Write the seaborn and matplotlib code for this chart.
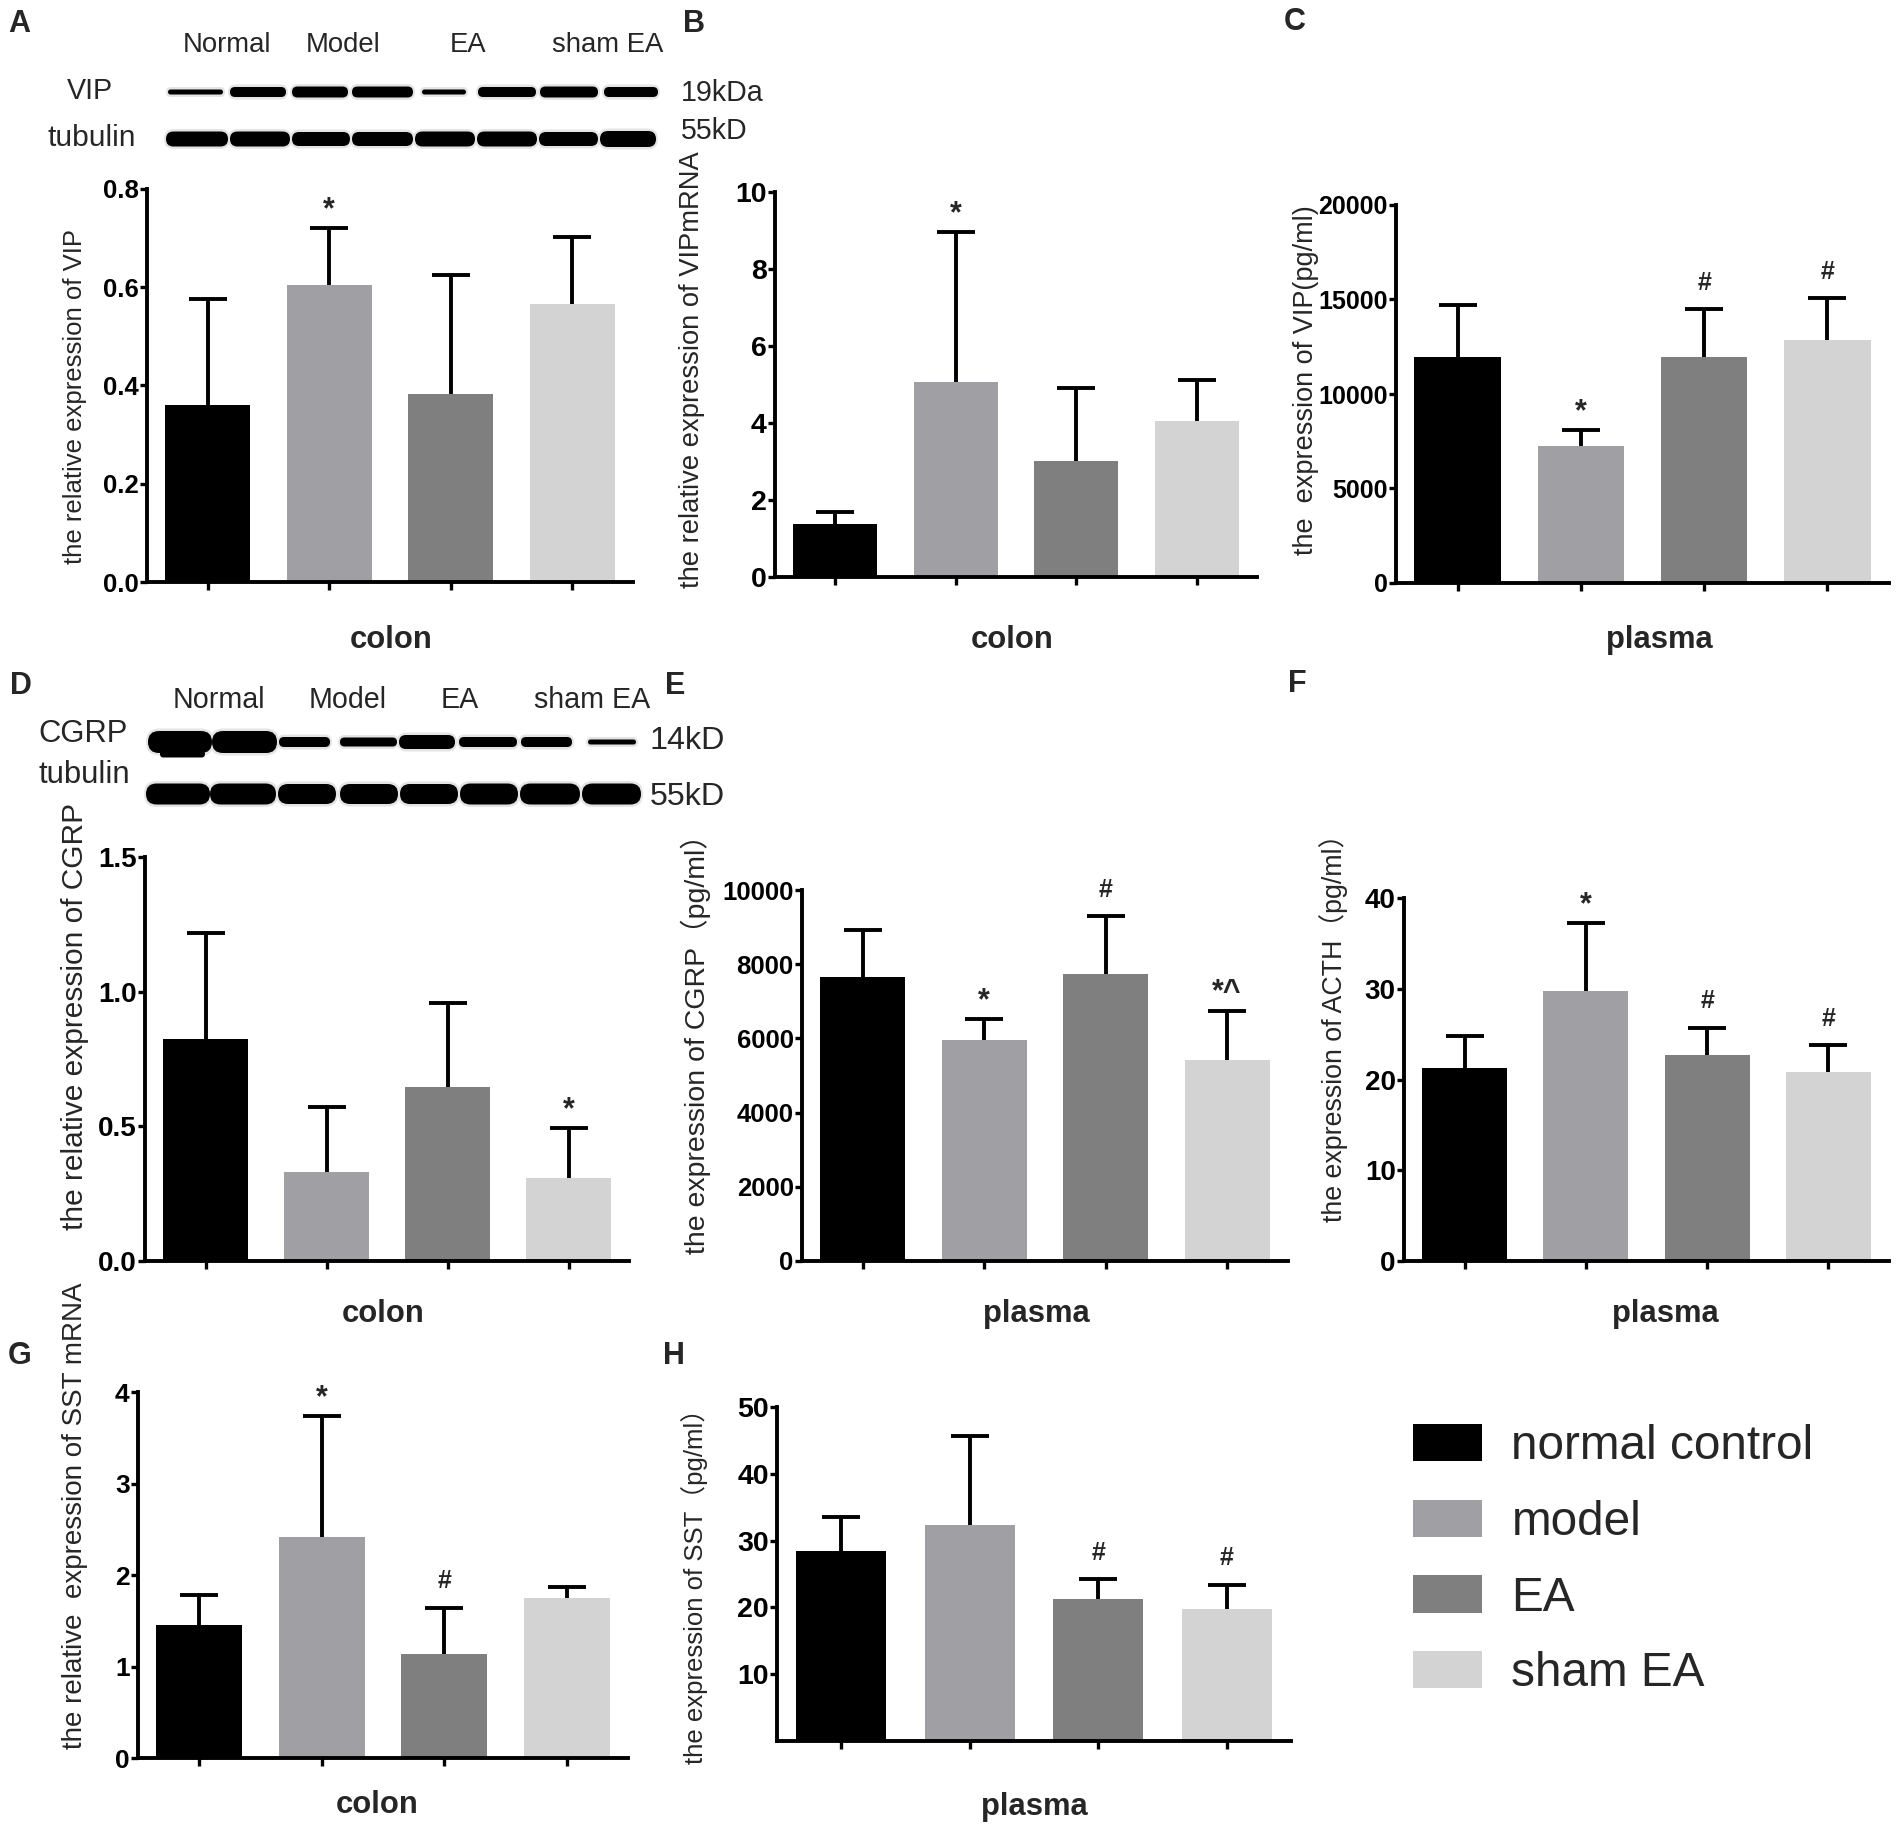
import matplotlib
matplotlib.use("Agg")
import numpy as np
import matplotlib.pyplot as plt
from matplotlib import font_manager as fm
from matplotlib.patches import Patch, FancyBboxPatch
from matplotlib.font_manager import FontProperties
import seaborn as sns

# ------------------------------------------------------------
# data (mean and upper SD per group)
# ------------------------------------------------------------
groups = ["normal control", "model", "EA", "sham EA"]
colors = ["#000000", "#a0a0a4", "#7f7f7f", "#d3d3d3"]

vip_wb_mean = [0.36, 0.605, 0.383, 0.566]
vip_wb_sd = [0.217, 0.115, 0.242, 0.137]
vip_wb_marks = ["", "*", "", ""]

vip_mrna_mean = [1.38, 5.07, 3.02, 4.06]
vip_mrna_sd = [0.31, 3.89, 1.89, 1.05]
vip_mrna_marks = ["", "*", "", ""]

vip_plasma_mean = [11940, 7250, 11980, 12840]
vip_plasma_sd = [2750, 830, 2520, 2230]
vip_plasma_marks = ["", "*", "#", "#"]

cgrp_wb_mean = [0.823, 0.331, 0.645, 0.31]
cgrp_wb_sd = [0.395, 0.242, 0.314, 0.183]
cgrp_wb_marks = ["", "", "", "*"]

cgrp_plasma_mean = [7660, 5960, 7730, 5420]
cgrp_plasma_sd = [1260, 570, 1560, 1320]
cgrp_plasma_marks = ["", "*", "#", "*^"]

acth_mean = [21.3, 29.7, 22.7, 20.8]
acth_sd = [3.5, 7.5, 3.0, 3.0]
acth_marks = ["", "*", "#", "#"]

sst_mrna_mean = [1.45, 2.42, 1.14, 1.75]
sst_mrna_sd = [0.33, 1.315, 0.50, 0.12]
sst_mrna_marks = ["", "*", "#", ""]

sst_plasma_mean = [28.5, 32.3, 21.3, 19.8]
sst_plasma_sd = [5.1, 13.4, 2.9, 3.6]
sst_plasma_marks = ["", "", "#", "#"]

blot_lanes = ["Normal", "Model", "EA", "sham EA"]

# ------------------------------------------------------------
# style
# ------------------------------------------------------------
sns.set_style("ticks")
plt.rcParams["font.family"] = ["Liberation Sans", "Noto Sans CJK SC", "DejaVu Sans"]
_names = {f.name for f in fm.fontManager.ttflist}
HAS_NARROW = "Liberation Sans Narrow" in _names
NARROW = ["Liberation Sans Narrow", "Liberation Sans"] if HAS_NARROW else ["Liberation Sans"]
NS = 1.0 if HAS_NARROW else 0.86   # shrink if no narrow face

W, H = 1902, 1842
fig = plt.figure(figsize=(W / 100, H / 100), dpi=100)

# overlay axes in pixel units for letters and blots
ov = fig.add_axes([0, 0, 1, 1])
ov.set_xlim(0, W)
ov.set_ylim(H, 0)
ov.axis("off")
ov.patch.set_alpha(0)


def add_axes_px(L, R, T, B):
    return fig.add_axes([L / W, 1 - B / H, (R - L) / W, (B - T) / H])


panels = [
    dict(px=(147, 633, 189, 582), mean=vip_wb_mean, sd=vip_wb_sd, marks=vip_wb_marks,
         ymin=0, ymax=0.8, step=0.2, fmt="{:.1f}", tick_fs=18.5,
         ylabel="the relative expression of VIP", ylab=(75, 396), ylab_fs=18.5,
         xlabel="colon", xlab=(391, 640)),
    dict(px=(775, 1257, 192, 577), mean=vip_mrna_mean, sd=vip_mrna_sd, marks=vip_mrna_marks,
         ymin=0, ymax=10, step=2, fmt="{:.0f}", tick_fs=20.5,
         ylabel="the relative expression of VIPmRNA", ylab=(692, 370), ylab_fs=19.7,
         xlabel="colon", xlab=(1012, 640)),
    dict(px=(1396, 1889, 205, 583), mean=vip_plasma_mean, sd=vip_plasma_sd, marks=vip_plasma_marks,
         ymin=0, ymax=20000, step=5000, fmt="{:.0f}", tick_fs=18,
         ylabel="the  expression of VIP(pg/ml)", ylab=(1306, 380), ylab_fs=19.5,
         xlabel="plasma", xlab=(1659, 640)),
    dict(px=(145, 629, 857, 1261), mean=cgrp_wb_mean, sd=cgrp_wb_sd, marks=cgrp_wb_marks,
         ymin=0, ymax=1.5, step=0.5, fmt="{:.1f}", tick_fs=20,
         ylabel="the relative expression of CGRP", ylab=(75, 1016), ylab_fs=21.5,
         xlabel="colon", xlab=(383, 1314)),
    dict(px=(802, 1288, 890, 1261), mean=cgrp_plasma_mean, sd=cgrp_plasma_sd, marks=cgrp_plasma_marks,
         ymin=0, ymax=10000, step=2000, fmt="{:.0f}", tick_fs=18.5,
         ylabel="the expression of CGRP（pg/ml）", ylab=(696, 1037), ylab_fs=20.5,
         xlabel="plasma", xlab=(1036, 1314)),
    dict(px=(1404, 1889, 898, 1261), mean=acth_mean, sd=acth_sd, marks=acth_marks,
         ymin=0, ymax=40, step=10, fmt="{:.0f}", tick_fs=20,
         ylabel="the expression of ACTH（pg/ml）", ylab=(1334, 1021), ylab_fs=19.3,
         xlabel="plasma", xlab=(1665, 1314)),
    dict(px=(138, 628, 1392, 1758), mean=sst_mrna_mean, sd=sst_mrna_sd, marks=sst_mrna_marks,
         ymin=0, ymax=4, step=1, fmt="{:.0f}", tick_fs=19,
         ylabel="the relative  expression of SST mRNA", ylab=(75, 1516), ylab_fs=20,
         xlabel="colon", xlab=(377, 1805)),
    dict(px=(777, 1291, 1407, 1741), mean=sst_plasma_mean, sd=sst_plasma_sd, marks=sst_plasma_marks,
         ymin=10, ymax=50, step=10, fmt="{:.0f}", tick_fs=20.5,
         ylabel="the expression of SST（pg/ml）", ylab=(695, 1580), ylab_fs=18.5,
         xlabel="plasma", xlab=(1034, 1807)),
]

for p in panels:
    L, R, T, B = p["px"]
    ax = add_axes_px(L, R, T, B)
    ax.patch.set_alpha(0)
    sns.barplot(x=groups, y=p["mean"], hue=groups, hue_order=groups, order=groups,
                palette=colors, saturation=1, width=0.7, errorbar=None,
                legend=False, ax=ax, edgecolor="none", linewidth=0)
    ax.errorbar(range(4), p["mean"], yerr=p["sd"], fmt="none", ecolor="black",
                elinewidth=2.8, capsize=14, capthick=2.8, zorder=0.5)
    ax.set_xlim(-0.5, 3.5)
    ax.set_ylim(0, p["ymax"])
    ticks = np.arange(p["ymin"], p["ymax"] + p["step"] / 2, p["step"])
    ax.set_yticks(ticks)
    ax.set_yticklabels([p["fmt"].format(t) for t in ticks], fontsize=p["tick_fs"],
                       fontweight="bold")
    ax.set_xticks(range(4))
    ax.set_xticklabels([])
    sns.despine(ax=ax)
    for s in ("left", "bottom"):
        ax.spines[s].set_linewidth(2.8)
        ax.spines[s].set_color("black")
    ax.tick_params(axis="y", direction="out", length=5, width=2.4, pad=1, colors="black")
    ax.tick_params(axis="x", direction="out", length=6, width=2.4, colors="black")

    ax.set_ylabel(p["ylabel"], fontsize=p["ylab_fs"])
    ax.yaxis.label.set_va("center")
    ax.yaxis.set_label_coords((p["ylab"][0] - L) / (R - L), (B - p["ylab"][1]) / (B - T))
    ax.set_xlabel(p["xlabel"], fontsize=26 * NS, fontweight="bold", family=NARROW)
    ax.xaxis.label.set_va("center")
    ax.xaxis.set_label_coords((p["xlab"][0] - L) / (R - L), -(p["xlab"][1] - B) / (B - T))

    for i, (m, s, mk) in enumerate(zip(p["mean"], p["sd"], p["marks"])):
        if not mk:
            continue
        star = mk.startswith("*")
        ax.annotate(mk, xy=(i, m + s), xytext=(0, 7 if star else 14), textcoords="offset points",
                    ha="center", va="baseline", fontsize=22 if star else 18,
                    fontweight="bold", annotation_clip=False)


# ------------------------------------------------------------
# western blots (drawn as rounded bands in pixel space)
# ------------------------------------------------------------
def band(x0, x1, yc, h, color="black"):
    ov.add_patch(FancyBboxPatch((x0, yc - h / 2), x1 - x0, h,
                                boxstyle=f"round,pad=0,rounding_size={h / 2}",
                                fc=color, ec="none"))


def blot_row(lanes, yc, heights):
    for (x0, x1), h in zip(lanes, heights):
        band(x0 - 2, x1 + 2, yc, h + 5, color="#e4e4e4")
    for (x0, x1), h in zip(lanes, heights):
        band(x0, x1, yc, h)


vip_lanes = [(168, 223), (230, 286), (292, 348), (352, 413), (422, 466), (478, 536), (540, 598), (604, 658)]
vip_h = [5, 10, 11, 11, 5, 10, 11, 10]
tub_a_lanes = [(166, 228), (230, 290), (292, 350), (352, 413), (415, 475), (477, 537), (539, 598), (600, 656)]
tub_a_h = [15, 15, 14, 14, 15, 15, 14, 16]
blot_row(vip_lanes, 92, vip_h)
blot_row(tub_a_lanes, 139, tub_a_h)

cgrp_lanes = [(148, 212), (212, 277), (279, 330), (340, 397), (399, 455), (459, 517), (521, 572), (588, 636)]
cgrp_h = [22, 22, 10, 9, 14, 10, 10, 5]
tub_d_lanes = [(146, 210), (210, 276), (278, 336), (340, 398), (400, 458), (460, 518), (520, 580), (582, 641)]
tub_d_h = [21, 21, 20, 20, 20, 21, 21, 21]
blot_row(cgrp_lanes, 742, cgrp_h)
band(160, 205, 754, 7)
blot_row(tub_d_lanes, 794, tub_d_h)

for x, lab in zip([227, 343, 468, 608], blot_lanes):
    ov.text(x, 45, lab, ha="center", va="center", fontsize=23 * NS, family=NARROW)
ov.text(90, 91, "VIP", ha="center", va="center", fontsize=24 * NS, family=NARROW)
ov.text(92, 138, "tubulin", ha="center", va="center", fontsize=25 * NS, family=NARROW)
ov.text(681, 93, "19kDa", ha="left", va="center", fontsize=24 * NS, family=NARROW)
ov.text(681, 131, "55kD", ha="left", va="center", fontsize=24 * NS, family=NARROW)

for x, lab in zip([219, 348, 460, 592], blot_lanes):
    ov.text(x, 700, lab, ha="center", va="center", fontsize=24 * NS, family=NARROW)
ov.text(83, 734, "CGRP", ha="center", va="center", fontsize=26 * NS, family=NARROW)
ov.text(84, 775, "tubulin", ha="center", va="center", fontsize=26 * NS, family=NARROW)
ov.text(650, 741, "14kD", ha="left", va="center", fontsize=27 * NS, family=NARROW)
ov.text(650, 797, "55kD", ha="left", va="center", fontsize=27 * NS, family=NARROW)

# panel letters
for lab, x, y in [("A", 8, 24), ("B", 683, 24), ("C", 1284, 22),
                  ("D", 10, 686), ("E", 665, 686), ("F", 1288, 684),
                  ("G", 8, 1356), ("H", 663, 1356)]:
    ov.text(x, y, lab, ha="left", va="center", fontsize=22, fontweight="bold")

# ------------------------------------------------------------
# legend
# ------------------------------------------------------------
handles = [Patch(facecolor=c, edgecolor="none") for c in colors]
fig.legend(handles, groups, loc="upper left", bbox_to_anchor=(1413 / W, 1 - 1424 / H),
           frameon=False, prop=FontProperties(family=NARROW, size=40 * NS),
           handlelength=1.44, handleheight=0.82, handletextpad=0.62,
           labelspacing=0.64, borderpad=0, borderaxespad=0)

fig.savefig("out.png", dpi=100, facecolor="white")
